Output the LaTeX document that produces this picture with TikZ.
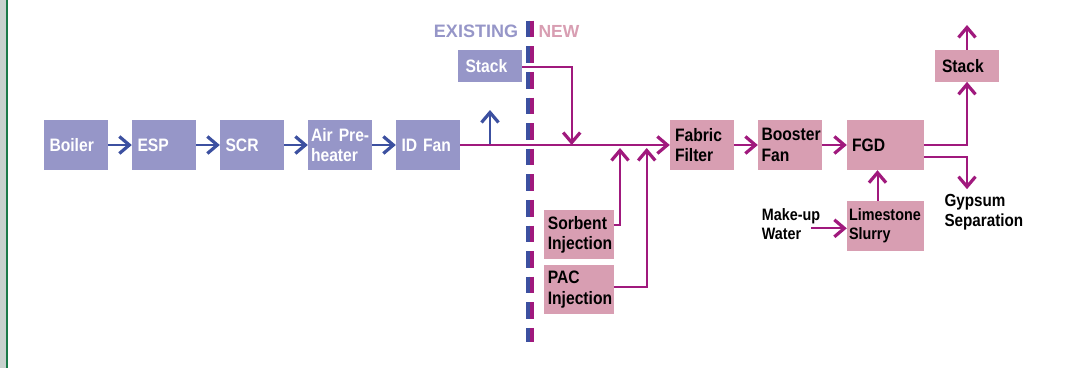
\documentclass[tikz,border=0pt]{standalone}
\usepackage{fontspec}
\setmainfont{Liberation Sans}
\newfontfamily\narrowsans{Liberation Sans}[FakeStretch=0.87]
\usetikzlibrary{arrows.meta, positioning, calc}

\definecolor{oldfill}{RGB}{150,150,200}
\definecolor{newfill}{RGB}{216,158,178}
\definecolor{oldpipe}{RGB}{60,80,160}
\definecolor{newpipe}{RGB}{160,25,125}
\definecolor{edgegrey}{RGB}{200,210,206}
\definecolor{edgegreen}{RGB}{26,122,72}

\tikzset{
  plant/.style={rectangle, inner xsep=5.5pt, inner ysep=0pt, minimum height=50pt,
    align=left, font=\narrowsans\bfseries\fontsize{18}{20.5}\selectfont},
  oldplant/.style={plant, fill=oldfill, text=white},
  newplant/.style={plant, fill=newfill, text=black},
  barb/.style={-{Straight Barb[length=10pt,width=17pt,line width=3.2pt]}},
  oldflow/.style={draw=oldpipe, line width=2pt, barb},
  newflow/.style={draw=newpipe, line width=2pt, barb},
  tag/.style={inner sep=0pt, align=left, font=\narrowsans\bfseries\fontsize{17.5}{19.5}\selectfont}
}

\begin{document}
\begin{tikzpicture}[x=1pt, y=-1pt]
    \useasboundingbox (0,0) rectangle (1090,368);

    % page edge
    \fill[edgegrey] (0,0) rectangle (6,368);
    \fill[edgegreen] (6,0) rectangle (8,368);

    % Existing plant
    \node[oldplant, text width=53pt] (boiler) at (76,145) {Boiler};
    \node[oldplant, text width=53pt] (esp) at (164,145) {ESP};
    \node[oldplant, text width=53pt] (scr) at (252,145) {SCR};
    \node[oldplant, inner xsep=3pt, text width=58pt] (airheater) at (340,145) {\mbox{Air Pre-}\\heater};
    \node[oldplant, text width=53pt] (idfan) at (428,145) {ID Fan};
    \node[oldplant, inner xsep=7.5pt, text width=49pt, minimum height=31.7pt] (oldstack) at (490,65.8) {Stack};

    % New plant
    \node[newplant, inner xsep=3.5pt, text width=62.4pt, minimum height=49.3pt] (sorbent) at (579,234.7) {Sorbent\\Injection};
    \node[newplant, inner xsep=3.5pt, text width=62.4pt, minimum height=49.3pt] (pac) at (579,289.7) {PAC\\Injection};
    \node[newplant, inner xsep=5pt, text width=54pt] (filter) at (702,145) {Fabric\\Filter};
    \node[newplant, inner xsep=3.5pt, text width=57pt] (booster) at (790,145) {Booster\\Fan};
    \node[newplant, inner xsep=5pt, text width=67pt] (fgd) at (885.5,145) {FGD};
    \node[newplant, inner xsep=2pt, text width=73pt, minimum height=49.7pt,
      font=\narrowsans\bfseries\fontsize{16.5}{19.5}\selectfont] (limestone) at (885.5,225.8) {Limestone\\Slurry};
    \node[newplant, inner xsep=7pt, text width=50pt, minimum height=31.7pt] (newstack) at (967,65.8) {Stack};

    \node[tag, anchor=west] (gypsum) at (944.3,212) {Gypsum\\Separation};
    \node[tag, anchor=west, font=\narrowsans\bfseries\fontsize{16.5}{18.3}\selectfont] (makeup) at (761.7,224) {Make-up\\Water};

    % Headings
    \node[tag, anchor=east, text=oldfill, font=\bfseries\fontsize{18}{20}\selectfont] (existing) at (518.2,31.7) {EXISTING};
    \node[tag, anchor=west, text=newfill, font=\bfseries\fontsize{17.5}{20}\selectfont] (new) at (538.3,31.7) {NEW};

    % Free ends
    \coordinate (vent) at (490,145);
    \coordinate (venttop) at (490,110);
    \coordinate (drop) at (571.7,145);
    \coordinate (sorbjoin) at (620,148);
    \coordinate (pacjoin) at (646.7,148);
    \coordinate (stackout) at (967,25);
    \coordinate (water) at (811,228.3);

    % Existing flow
    \draw[oldflow] (boiler) -- (esp);
    \draw[oldflow] (esp) -- (scr);
    \draw[oldflow] (scr) -- (airheater);
    \draw[oldflow] (airheater) -- (idfan);
    \draw[oldflow] (vent) -- (venttop);

    % New flow
    \draw[newflow] (idfan) -- (filter);
    \draw[newflow] ([yshift=-1pt]oldstack.east) -| (drop);
    \draw[newflow] ([yshift=9.4pt]sorbent.east) -| (sorbjoin);
    \draw[newflow] ([yshift=2.4pt]pac.east) -| (pacjoin);
    \draw[newflow] (filter) -- (booster);
    \draw[newflow] (booster) -- (fgd);
    \draw[newflow] (fgd.east) -| (newstack.south);
    \draw[newflow, shorten >=5pt] ([yshift=-12.3pt]fgd.east) -| (gypsum.north -| newstack.south);
    \draw[newflow] (newstack.north) -- (stackout);
    \draw[newflow] ([xshift=-8pt]limestone.north) -- ([xshift=-8pt]fgd.south);
    \draw[newflow] (water) -- (water -| limestone.west);

    % Existing / new divide
    \draw[oldpipe, line width=4.2pt, dash pattern=on 16.7pt off 8.9pt] (527.8,20.7) -- (527.8,342);
    \draw[newpipe, line width=4.2pt, dash pattern=on 16.7pt off 8.9pt] (532,20.7) -- (532,342);
\end{tikzpicture}
\end{document}
